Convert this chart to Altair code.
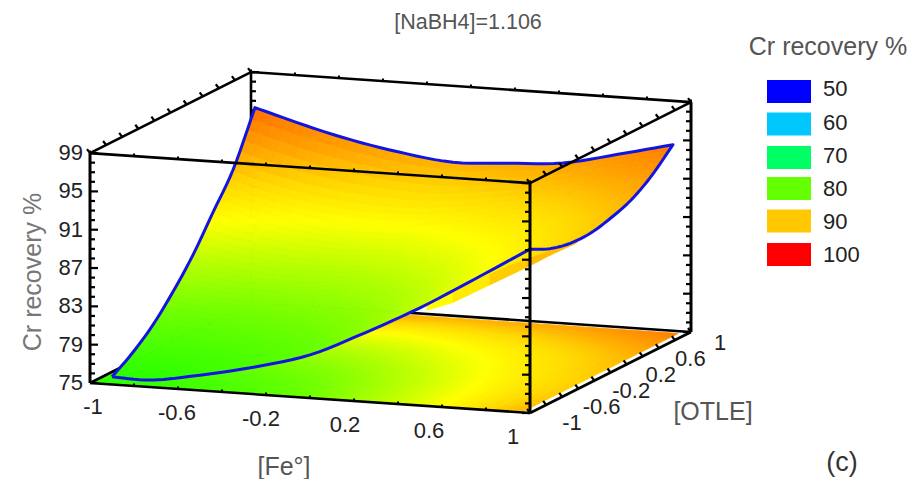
import numpy as np
import pandas as pd
import altair as alt

# ---- values ----
fe_grid = [-0.9, -0.75, -0.5, -0.25, 0, 0.25, 0.5, 0.75, 1]
otle_grid = [-1, -0.75, -0.5, -0.25, 0, 0.25, 0.5, 0.776]
cr_m100 = [75.8, 75.7, 76.6, 77.85, 79.5, 82.2, 85.2, 88.6, 92.1]
cr_m075 = [77.2, 77.0, 77.6, 78.7, 80.2, 82.6, 85.4, 88.4, 91.1]
cr_m050 = [79.0, 78.7, 79.0, 79.9, 81.2, 83.3, 85.8, 88.4, 90.6]
cr_m025 = [81.4, 80.9, 80.8, 81.4, 82.5, 84.3, 86.5, 88.7, 90.6]
cr_p000 = [84.2, 83.5, 83.0, 83.2, 84.1, 85.6, 87.4, 89.3, 91.1]
cr_p025 = [87.6, 86.8, 85.8, 85.5, 86.0, 87.2, 88.6, 90.2, 91.9]
cr_p050 = [91.0, 90.0, 88.9, 88.4, 88.5, 89.3, 90.4, 91.8, 93.3]
cr_p078 = [96.4, 95.4, 93.9, 92.8, 92.1, 92.4, 92.8, 94.1, 95.5]

sliver_fe = [0.532, 0.65, 0.818, 0.986, 1, 1]
sliver_otle = [-1, -1, -1, -1, -0.75, -0.416]
sliver_low = [85.0, 86.0, 88.1, 90.2, 90.4, 90.3]
sliver_up = [85.7, 87.1, 89.5, 92.0, 91.1, 90.6]
sliver_shade = [87, 87.5, 89.5, 91.5, 91.5, 91.5]

z_ticks = [75, 79, 83, 87, 91, 95, 99]
xy_ticks = [-1, -0.6, -0.2, 0.2, 0.6, 1]
xy_tick_text = ["-1", "-0.6", "-0.2", "0.2", "0.6", "1"]
legend_values = [50, 60, 70, 80, 90, 100]
legend_colors = ["#0000ff", "#00c8ff", "#00ff64", "#64ff00", "#ffc800", "#ff0000"]

stops_z = [50, 60, 70, 75, 80, 84, 87, 90, 92.5, 95.5, 97, 100]
stops_rgb = [(0, 0, 255), (0, 200, 255), (0, 255, 100), (30, 255, 0), (110, 255, 0), (190, 255, 0),
             (255, 255, 0), (255, 215, 0), (255, 170, 0), (255, 125, 0), (255, 90, 0), (255, 0, 0)]


def colour(z):
    return "#%02x%02x%02x" % tuple(int(round(np.interp(z, stops_z, [c[i] for c in stops_rgb]))) for i in range(3))


# oblique view of the cube, in page pixels
def proj(f, o, z):
    return (390.5 + 220 * f + 80.5 * o - 8, 357.5 + 15 * f - 40.5 * o - 9.58 * (z - 75) - 8)


def resample(xs, ys, n=6):
    xs = np.asarray(xs, float)
    ys = np.asarray(ys, float)
    d = np.gradient(ys, xs)
    out = []
    for i in range(len(xs) - 1):
        h = xs[i + 1] - xs[i]
        for k in range(n):
            t = k / n
            out.append((2*t**3 - 3*t**2 + 1) * ys[i] + (t**3 - 2*t**2 + t) * h * d[i]
                       + (-2*t**3 + 3*t**2) * ys[i + 1] + (t**3 - t**2) * h * d[i + 1])
    out.append(ys[-1])
    return np.array(out)


Z = np.array([cr_m100, cr_m075, cr_m050, cr_m025, cr_p000, cr_p025, cr_p050, cr_p078])
Z1 = np.array([resample(fe_grid, r) for r in Z])
Zf = np.array([resample(otle_grid, c) for c in Z1.T]).T
F = resample(fe_grid, fe_grid)
O = resample(otle_grid, otle_grid)


def poly(pts, c):
    ring = [[round(a, 1), round(b, 1)] for a, b in pts]
    ring.append(ring[0])
    return {"type": "Feature", "properties": {"c": c}, "geometry": {"type": "Polygon", "coordinates": [ring]}}


base_f = -1 + (F - F[0]) / (F[-1] - F[0]) * 1.96
base_o = -1 + (O - O[0]) / (O[-1] - O[0]) * 1.95
base_cells, surf_cells = [], []
for j in range(len(O) - 1):
    for i in range(len(F) - 1):
        zm = (Zf[j, i] + Zf[j, i + 1] + Zf[j + 1, i] + Zf[j + 1, i + 1]) / 4
        c = colour(zm)
        idx = [(j, i), (j, i + 1), (j + 1, i + 1), (j + 1, i)]
        base_cells.append(poly([proj(base_f[b], base_o[a], 75) for a, b in idx], c))
        surf_cells.append(poly([proj(F[b], O[a], Zf[a, b]) for a, b in idx], c))

sliver_cells = []
for i in range(len(sliver_fe) - 1):
    a = (sliver_fe[i], sliver_otle[i])
    b = (sliver_fe[i + 1], sliver_otle[i + 1])
    sliver_cells.append(poly([proj(*a, sliver_low[i]), proj(*b, sliver_low[i + 1]),
                              proj(*b, sliver_up[i + 1]), proj(*a, sliver_up[i])],
                             colour((sliver_shade[i] + sliver_shade[i + 1]) / 2)))


def seg(a, b, w=2.6):
    return {"x": a[0], "y": a[1], "x2": b[0], "y2": b[1], "w": w}


back, front = [], []
zl, zh = 75, 99
c = {(fx, ox, z): proj(fx, ox, z) for fx in (-1, 1) for ox in (-1, 1) for z in (zl, zh)}
back += [seg(c[(-1, -1, zh)], c[(-1, 1, zh)]), seg(c[(-1, 1, zh)], c[(1, 1, zh)]),
         seg(c[(-1, 1, zl)], c[(1, 1, zl)]), seg(c[(-1, 1, zl)], c[(-1, 1, zh)], 2.6),
         seg(c[(-1, -1, zl)], c[(-1, 1, zl)], 2.6)]
front += [seg(c[(-1, -1, zh)], c[(1, -1, zh)]), seg(c[(1, -1, zh)], c[(1, 1, zh)]),
          seg(c[(-1, -1, zl)], c[(1, -1, zl)]), seg(c[(1, -1, zl)], c[(1, 1, zl)]),
          seg(c[(-1, -1, zl)], c[(-1, -1, zh)], 3), seg(c[(1, -1, zl)], c[(1, -1, zh)], 3),
          seg(c[(1, 1, zl)], c[(1, 1, zh)], 3)]

for z in range(75, 100):
    major = (z - 75) % 4 == 0
    L = 8 if major else 5
    for (fx, ox), sgn, lst in (((-1, -1), 1, front), ((1, -1), -1, front), ((1, 1), -1, front), ((-1, 1), 1, back)):
        p = proj(fx, ox, z)
        lst.append(seg(p, (p[0] + sgn * L, p[1]), 2.2))
for k in range(-5, 6):
    v = k / 5
    for o_, z, lst in ((-1, zh, front), (1, zh, back), (-1, zl, front)):
        p = proj(v, o_, z)
        lst.append(seg(p, (p[0], p[1] - 2.5), 2))
    for f_, z, lst in ((1, zh, front), (-1, zh, back), (1, zl, front)):
        p = proj(f_, v, z)
        lst.append(seg(p, (p[0] - 3, p[1] - 4), 2.2))

outline = []
for j in range(len(O)):
    outline.append(proj(F[0], O[j], Zf[j, 0]))
for i in range(1, len(F)):
    outline.append(proj(F[i], O[-1], Zf[-1, i]))
for j in range(len(O) - 2, -1, -1):
    outline.append(proj(F[-1], O[j], Zf[j, -1]))
for i in range(len(F) - 2, -1, -1):
    outline.append(proj(F[i], O[0], Zf[0, i]))
outline_df = pd.DataFrame([{"x": p[0], "y": p[1], "i": n} for n, p in enumerate(outline)])

X = alt.X("x:Q", scale=None, axis=None)
Y = alt.Y("y:Q", scale=None, axis=None)


def shapes(cells):
    return alt.Chart(alt.Data(values=cells)).mark_geoshape(strokeWidth=0.8).encode(
        fill=alt.Fill("properties.c:N", scale=None),
        stroke=alt.Stroke("properties.c:N", scale=None),
    ).project(type="identity", scale=1, translate=[0, 0])


def rules(rows):
    return alt.Chart(pd.DataFrame(rows)).mark_rule(color="#000000").encode(
        x=X, y=Y, x2="x2:Q", y2="y2:Q", strokeWidth=alt.StrokeWidth("w:Q", scale=None))


def texts(rows, size, color, align="center", angle=0):
    df = pd.DataFrame(rows, columns=["t", "x", "y"])
    df["x"] -= 8
    df["y"] -= 8
    return alt.Chart(df).mark_text(font="Liberation Sans", fontSize=size, color=color, align=align,
                                   baseline="middle", angle=angle).encode(x=X, y=Y, text="t:N")


swatch_top = [80, 112.5, 146, 177, 209.5, 243]
legend_df = pd.DataFrame({
    "c": legend_colors,
    "x": [759] * 6, "x2": [803] * 6,
    "y": [v - 8 for v in swatch_top],
})
legend_df["y2"] = legend_df["y"] + 23
legend_rect = alt.Chart(legend_df).mark_rect().encode(
    x=X, y=Y, x2="x2:Q", y2="y2:Q", fill=alt.Fill("c:N", scale=None))

dark = "#222222"
grey = "#555555"
tick_size = 22
z_text = texts([[str(z), 83, 383 - 9.58 * (z - 75)] for z in z_ticks], tick_size, dark, "right")
fe_text = texts([[t, 303 + 210 * v, 422 + 15 * v] for t, v in zip(xy_tick_text, xy_ticks)], tick_size, dark)
ot_text = texts([[t, 646 + 74 * v, 383 - 40 * v] for t, v in zip(xy_tick_text, xy_ticks)], tick_size, dark)
leg_text = texts([[str(v), 823, y] for v, y in zip(legend_values, (89, 123, 156, 189, 222, 255))], tick_size, dark, "left")
title = texts([["[NaBH4]=1.106", 468, 23]], 21.5, grey)
ax_titles = texts([["[Fe°]", 284, 467], ["[OTLE]", 713, 412]], 25, grey)
leg_title = texts([["Cr recovery %", 828, 47]], 25, grey)
y_title = texts([["Cr recovery %", 33, 272]], 25, "#777777", angle=270)
panel = texts([["(c)", 842, 463]], 27, "#333333")

chart = alt.layer(
    shapes(base_cells),
    rules(back),
    shapes(sliver_cells),
    shapes(surf_cells),
    alt.Chart(outline_df).mark_line(color="#1414e0", strokeWidth=3, strokeJoin="round").encode(
        x=X, y=Y, order="i:Q"),
    rules(front),
    legend_rect, z_text, fe_text, ot_text, leg_text, title, ax_titles, leg_title, y_title, panel,
).properties(width=899, height=471, padding=0, autosize="none", background="white"
).configure_view(stroke=None)

chart.save("out.html", embed_options={"renderer": "svg", "actions": False})
